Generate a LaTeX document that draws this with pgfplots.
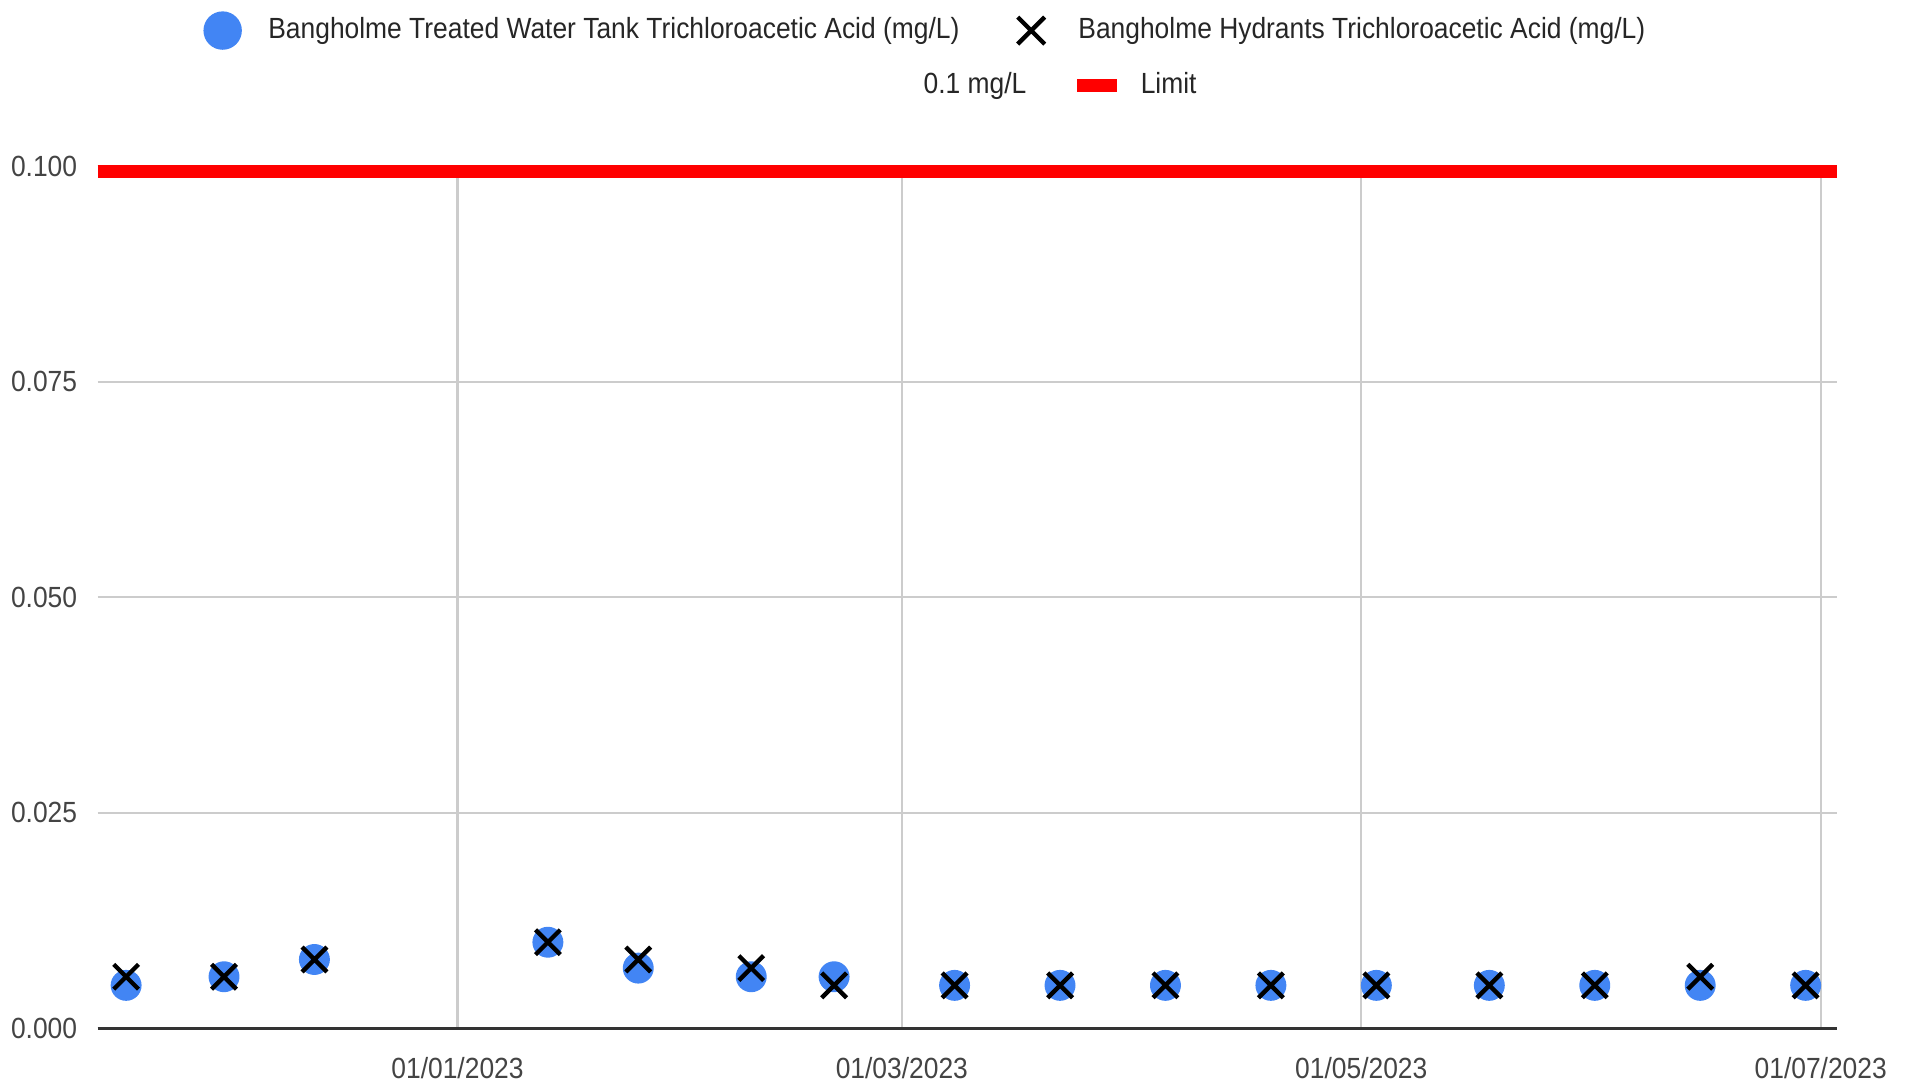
\documentclass[border=0pt]{standalone}
\usepackage{fontspec}
\setmainfont{Liberation Sans}[FakeStretch=0.905]
\usepackage{pgfplots}
\pgfplotsset{compat=1.18}
\definecolor{tankblue}{HTML}{4285F4}
\definecolor{gridgray}{HTML}{CCCCCC}
\definecolor{axisdark}{HTML}{333333}
\definecolor{limitred}{HTML}{FF0000}
\definecolor{labelgray}{HTML}{444444}
\newcommand{\chartfont}{\fontsize{8.3}{10}\selectfont}

% x = days since 01/01/2023
\begin{document}
\begin{tikzpicture}
\useasboundingbox (-9.75mm,-5.75mm) rectangle (181.95mm,102.85mm);
\begin{axis}[
  scale only axis, width=173.9mm, height=86.25mm,
  xmin=-47.8, xmax=183.1, ymin=0, ymax=0.1,
  clip=false,
  axis x line*=bottom, axis y line*=left,
  x axis line style={-, draw=axisdark, line width=0.9pt},
  y axis line style={draw=none},
  xtick={0,59,120,181},
  xticklabels={01/01/2023,01/03/2023,01/05/2023,01/07/2023},
  ytick={0,0.025,0.05,0.075,0.1},
  yticklabels={0.000,0.025,0.050,0.075,0.100},
  scaled y ticks=false,
  major tick length=0pt,
  grid=major, grid style={gridgray, line width=0.6pt},
  tick label style={font=\chartfont, text=labelgray},
  xticklabel style={yshift=-1.6mm},
  yticklabel style={xshift=-0.8mm},
  legend columns=2,
  legend style={at={(0.4775,1.157)}, anchor=center, draw=none, fill=none,
    font=\chartfont, text=black!85,
    /tikz/every even column/.append style={column sep=4.9mm}},
]
\addplot[limitred, line width=3.8pt, yshift=-0.55mm, forget plot] coordinates {(-47.8,0.1) (183.1,0.1)};

\addplot[only marks, mark=*, mark size=4.2pt, color=tankblue,
  legend image code/.code={\path (-1.85mm,0) (3.8mm,0); \fill[tankblue] (0,0) circle (1.85mm);}]
coordinates {
(-44,0.005) (-31,0.006) (-19,0.008) (12,0.010) (24,0.007) (39,0.006) (50,0.006)
(66,0.005) (80,0.005) (94,0.005) (108,0.005) (122,0.005) (137,0.005) (151,0.005)
(165,0.005) (179,0.005)
};
\addlegendentry{Bangholme Treated Water Tank Trichloroacetic Acid (mg/L)}

\addplot[only marks, mark=x, mark size=5pt, line width=1.25pt, black,
  legend image code/.code={\path (-1.35mm,0) (3.8mm,0);
    \draw[black, line width=1.25pt] (-1.35mm,-1.35mm) -- (1.35mm,1.35mm) (-1.35mm,1.35mm) -- (1.35mm,-1.35mm);}]
coordinates {
(-44,0.006) (-31,0.006) (-19,0.008) (12,0.010) (24,0.008) (39,0.007) (50,0.005)
(66,0.005) (80,0.005) (94,0.005) (108,0.005) (122,0.005) (137,0.005) (151,0.005)
(165,0.006) (179,0.005)
};
\addlegendentry{Bangholme Hydrants Trichloroacetic Acid (mg/L)}
\end{axis}

\begin{axis}[
  scale only axis, width=173.9mm, height=86.25mm,
  hide axis, xmin=0, xmax=1, ymin=0, ymax=1,
  legend columns=2,
  legend style={at={(0.5535,1.0933)}, anchor=center, draw=none, fill=none,
    font=\chartfont, text=black!85,
    /tikz/every even column/.append style={column sep=4.4mm}},
]
\addlegendimage{empty legend}
\addlegendentry{0.1 mg/L}
\addlegendimage{legend image code/.code={\path (0,0) (5.5mm,0); \fill[limitred] (0,-0.6mm) rectangle (3.8mm,0.6mm);}}
\addlegendentry{Limit}
\end{axis}
\end{tikzpicture}
\end{document}
